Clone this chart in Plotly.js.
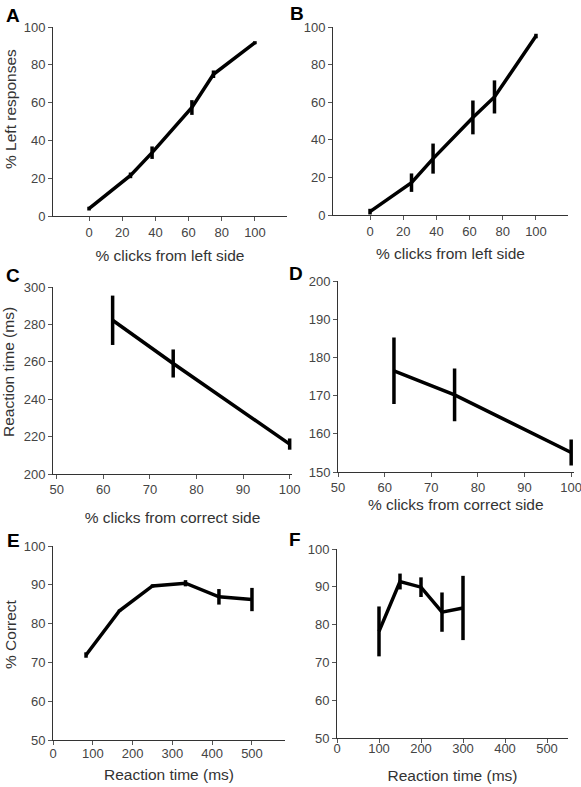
<!DOCTYPE html>
<html>
<head>
<meta charset="utf-8">
<script src="https://cdn.plot.ly/plotly-3.0.1.min.js"></script>
<style>html,body{margin:0;padding:0;background:#fff;} #chart{width:581px;height:787px;}</style>
</head>
<body>
<div id="chart"></div>
<script>
// Panel A: % left responses vs % clicks from left side (experiment 1)
const aX = [0, 25, 38, 62, 75, 100];
const aY = [3.9, 21.5, 33.5, 57.4, 75, 91.7];
const aErr = [1, 1.5, 3.3, 3.9, 2, 0.8];
// Panel B
const bX = [0, 25, 38, 62, 75, 100];
const bY = [1.8, 17.2, 30, 51.9, 62.8, 95.2];
const bErr = [1.5, 4.9, 8, 9, 8.8, 1.2];
// Panel C: reaction time vs % clicks from correct side
const cX = [62, 75, 100];
const cY = [282.2, 259.1, 216];
const cErr = [13.2, 7.5, 3];
// Panel D
const dX = [62, 75, 100];
const dY = [176.5, 170.2, 155.1];
const dErr = [8.7, 6.9, 3.4];
// Panel E: % correct vs reaction time
const eX = [83, 167, 250, 333, 417, 500];
const eY = [71.9, 83.3, 89.7, 90.4, 86.9, 86.2];
const eErr = [0.7, 0.3, 0.4, 0.8, 2, 3];
// Panel F
const fX = [100, 150, 200, 250, 300];
const fY = [78.2, 91.4, 89.9, 83.3, 84.4];
const fErr = [6.6, 2.1, 2.6, 5.2, 8.5];

const xTitleAB = '% clicks from left side';
const xTitleCD = '% clicks from correct side';
const xTitleEF = 'Reaction time (ms)';
const yTitleA = '% Left responses';
const yTitleC = 'Reaction time (ms)';
const yTitleE = '% Correct';
const panelLetters = ['A', 'B', 'C', 'D', 'E', 'F'];

const W = 581, H = 787;
const FONT = 'Liberation Sans, Arial, sans-serif';
const TFS = 15.5;

function trace(x, y, err, n) {
  return {
    x: x, y: y, type: 'scatter', mode: 'lines',
    xaxis: n === 1 ? 'x' : 'x' + n, yaxis: n === 1 ? 'y' : 'y' + n,
    line: {color: '#000', width: 3.5},
    error_y: {type: 'data', array: err, visible: true, color: '#000', thickness: 3.5, width: 0},
    showlegend: false, hoverinfo: 'x+y', cliponaxis: false
  };
}

function xd(l, r) { return [l / W, r / W]; }
function yd(top, bot) { return [1 - bot / H, 1 - top / H]; }

function axis(extra) {
  return Object.assign({
    showgrid: false, zeroline: false, showline: true,
    linecolor: '#333', linewidth: 1,
    ticks: 'outside', ticklen: 4, tickcolor: '#555', tickwidth: 1,
    tickfont: {family: FONT, size: 13, color: '#444'},
    ticklabeloverflow: 'allow',
    fixedrange: true, automargin: false
  }, extra);
}
function ttl(text, standoff) {
  return {text: text, font: {family: FONT, size: TFS, color: '#333'}, standoff: standoff};
}

const data = [
  trace(aX, aY, aErr, 1),
  trace(bX, bY, bErr, 2),
  trace(cX, cY, cErr, 3),
  trace(dX, dY, dErr, 4),
  trace(eX, eY, eErr, 5),
  trace(fX, fY, fErr, 6)
];

const tAB = [0, 20, 40, 60, 80, 100];
const letterAnn = [
  [13, 16], [297, 14], [13, 275], [296, 274], [13, 540], [295, 539]
].map((p, i) => ({
  text: '<b>' + panelLetters[i] + '</b>', xref: 'paper', yref: 'paper',
  x: p[0] / W, y: 1 - p[1] / H, xanchor: 'center', yanchor: 'middle',
  showarrow: false, font: {family: FONT, size: 19, color: '#000'}
}));
const yTitleAnn = [
  [yTitleA, 10, 109], [yTitleC, 9, 372], [yTitleE, 10, 634]
].map(t => ({
  text: t[0], xref: 'paper', yref: 'paper', x: t[1] / W, y: 1 - t[2] / H,
  xanchor: 'center', yanchor: 'middle', textangle: -90, showarrow: false,
  font: {family: FONT, size: TFS, color: '#333'}
}));

const layout = {
  width: W, height: H,
  margin: {l: 0, r: 0, t: 0, b: 0},
  paper_bgcolor: '#fff', plot_bgcolor: 'rgba(0,0,0,0)',
  font: {family: FONT},
  xaxis: axis({domain: xd(53, 287), range: [-21.7, 119.3], tickvals: tAB, anchor: 'y', title: ttl(xTitleAB, 11)}),
  yaxis: axis({domain: yd(27, 216), range: [0, 100], tickvals: tAB, anchor: 'x'}),
  xaxis2: axis({domain: xd(333, 568), range: [-22.3, 119.3], tickvals: tAB, anchor: 'y2', title: ttl(xTitleAB, 10)}),
  yaxis2: axis({domain: yd(27, 215), range: [0, 100], tickvals: tAB, anchor: 'x2'}),
  xaxis3: axis({domain: xd(53, 292), range: [49.2, 100.5], tickvals: [50, 60, 70, 80, 90, 100], anchor: 'y3', ticklabelstandoff: -1, title: ttl(xTitleCD, 16)}),
  yaxis3: axis({domain: yd(287, 474), range: [200, 300], tickvals: [200, 220, 240, 260, 280, 300], anchor: 'x3'}),
  xaxis4: axis({domain: xd(338, 573.5), range: [50, 100.5], tickvals: [50, 60, 70, 80, 90, 100], anchor: 'y4', ticklabelstandoff: -1, title: ttl(xTitleCD, 5)}),
  yaxis4: axis({domain: yd(281, 472), range: [150, 200], tickvals: [150, 160, 170, 180, 190, 200], anchor: 'x4'}),
  xaxis5: axis({domain: xd(53, 285), range: [0, 583], tickvals: [0, 100, 200, 300, 400, 500], anchor: 'y5', ticklabelstandoff: -3, title: ttl(xTitleEF, 9)}),
  yaxis5: axis({domain: yd(546, 740), range: [50, 100], tickvals: [50, 60, 70, 80, 90, 100], anchor: 'x5'}),
  xaxis6: axis({domain: xd(337, 568), range: [0, 550], tickvals: [0, 100, 200, 300, 400, 500], anchor: 'y6', ticklabelstandoff: -6, title: ttl(xTitleEF, 15)}),
  yaxis6: axis({domain: yd(549, 738), range: [50, 100], tickvals: [50, 60, 70, 80, 90, 100], anchor: 'x6'}),
  annotations: letterAnn.concat(yTitleAnn)
};

Plotly.newPlot('chart', data, layout, {staticPlot: true, displayModeBar: false});
</script>
</body>
</html>
